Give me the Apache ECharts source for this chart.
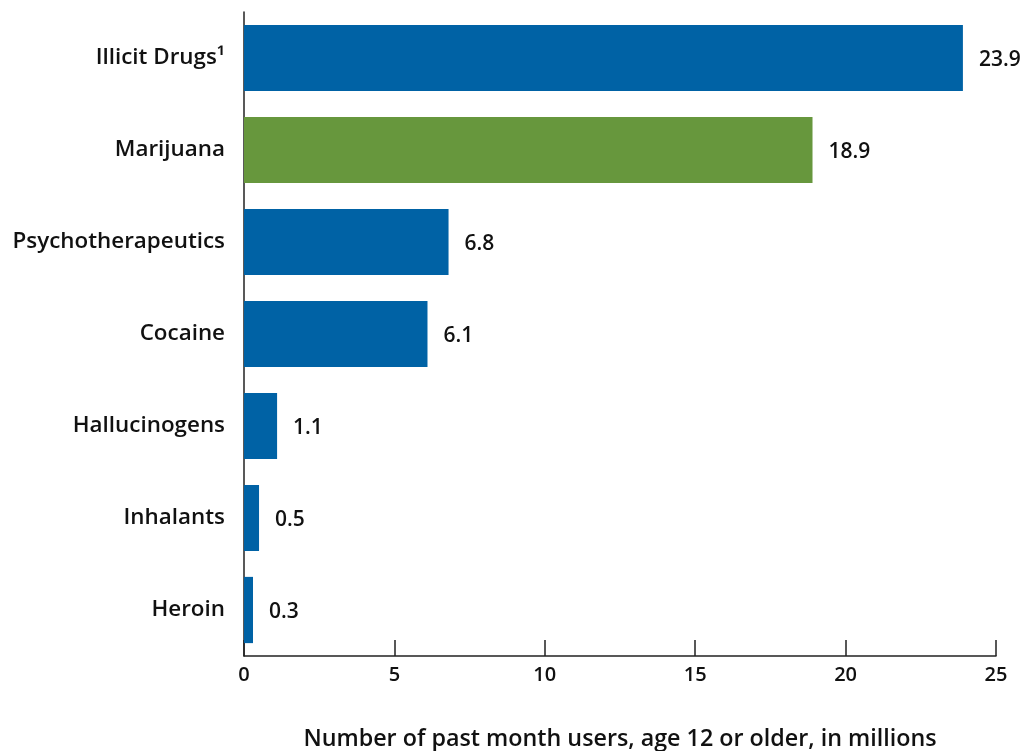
<!DOCTYPE html>
<html>
<head>
<meta charset="utf-8">
<script src="https://cdn.jsdelivr.net/npm/echarts@6/dist/echarts.min.js"></script>
<style>
  html, body { margin: 0; padding: 0; background: #fff; }
  #chart { width: 1021px; height: 751px; }
</style>
</head>
<body>
<div id="chart"></div>
<script>
// Past-month use by substance, millions of people aged 12+
const categories = ['Illicit Drugs\u00B9', 'Marijuana', 'Psychotherapeutics', 'Cocaine', 'Hallucinogens', 'Inhalants', 'Heroin'];
const values = [23.9, 18.9, 6.8, 6.1, 1.1, 0.5, 0.3];
const barColors = ['#0062a5', '#67973d', '#0062a5', '#0062a5', '#0062a5', '#0062a5', '#0062a5'];
const xTicks = [0, 5, 10, 15, 20, 25];
const xTitle = 'Number of past month users, age 12 or older, in millions';

const font = '"Open Sans", "Noto Sans", sans-serif';
const chart = echarts.init(document.getElementById('chart'), null, { renderer: 'canvas' });

chart.setOption({
  animation: false,
  backgroundColor: '#ffffff',
  grid: { left: 244, right: 25, top: 12, bottom: 95, containLabel: false, outerBoundsMode: 'none' },
  xAxis: {
    type: 'value',
    min: xTicks[0],
    max: xTicks[xTicks.length - 1],
    interval: 5,
    splitLine: { show: false },
    axisLine: { show: true, lineStyle: { color: '#222', width: 1.5 } },
    axisTick: { show: true, inside: true, length: 16, lineStyle: { color: '#222', width: 1.5 } },
    axisLabel: { color: '#111', fontFamily: font, fontSize: 20, fontWeight: 600, margin: 9 },
    name: xTitle,
    nameLocation: 'middle',
    nameGap: 72,
    nameTextStyle: { color: '#111', fontFamily: font, fontSize: 23.3, fontWeight: 600 }
  },
  yAxis: {
    type: 'category',
    data: categories,
    inverse: true,
    axisLine: { show: true, lineStyle: { color: '#222', width: 1.5 } },
    axisTick: { show: false },
    axisLabel: { color: '#111', fontFamily: font, fontSize: 22.4, fontWeight: 600, margin: 19 }
  },
  series: [{
    type: 'bar',
    data: values.map((v, i) => ({ value: v, itemStyle: { color: barColors[i] } })),
    barWidth: '72%',
    label: {
      show: true,
      position: 'right',
      distance: 16,
      offset: [0, 2],
      color: '#111',
      fontFamily: font,
      fontSize: 21,
      fontWeight: 600,
      formatter: p => p.value.toFixed(1)
    }
  }]
});
</script>
</body>
</html>
